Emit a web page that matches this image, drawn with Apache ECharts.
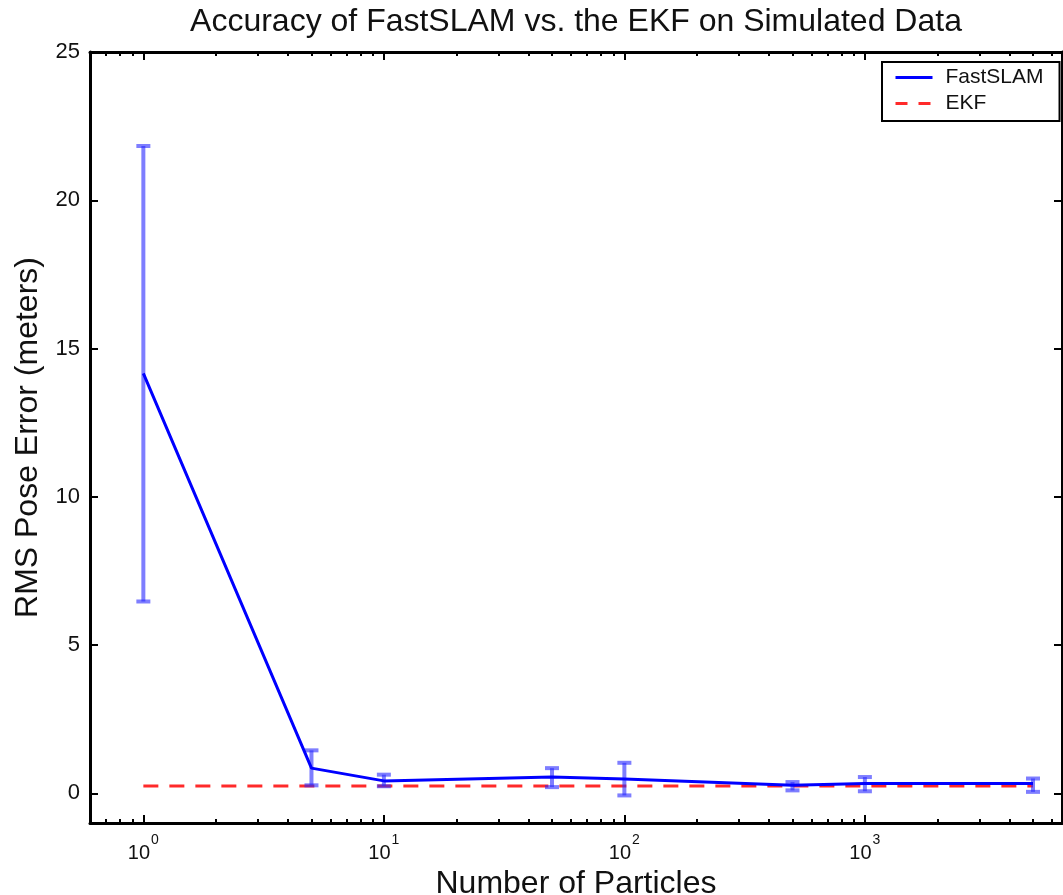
<!DOCTYPE html>
<html>
<head>
<meta charset="utf-8">
<title>Accuracy of FastSLAM vs. the EKF</title>
<script src="https://cdn.jsdelivr.net/npm/echarts@6/dist/echarts.min.js"></script>
<style>
    html, body { margin: 0; padding: 0; background: #fff; }
    #chart { width: 1063px; height: 895px; }
</style>
</head>
<body>
<div id="chart"></div>
<script type="text/javascript">
// number of particles (x, log scale)
var particles = [1, 5, 10, 50, 100, 500, 1000, 5000];
// FastSLAM RMS pose error, mean and error bar ends
var fastMean = [14.16, 0.85, 0.42, 0.55, 0.48, 0.27, 0.33, 0.33];
var fastLow  = [6.47, 0.27, 0.24, 0.21, -0.07, 0.10, 0.07, 0.05];
var fastHigh = [21.83, 1.45, 0.63, 0.85, 1.03, 0.38, 0.55, 0.50];
// EKF RMS pose error
var ekf = [0.25, 0.25, 0.25, 0.25, 0.25, 0.25, 0.25, 0.25];

var xMajor = [1, 10, 100, 1000];
var xMinor = [0.7, 0.8, 0.9, 2, 3, 4, 5, 6, 7, 8, 9, 20, 30, 40, 50, 60, 70, 80, 90,
              200, 300, 400, 500, 600, 700, 800, 900, 2000, 3000, 4000, 5000, 6000];
var yTicks = [0, 5, 10, 15, 20, 25];

var font = "'Liberation Sans', Arial, Helvetica, sans-serif";
var xMin = 0.6, xMax = 6600;

function xAxisDef(pos, ticks, len, showLabel, showLine) {
    return {
        type: 'log',
        logBase: 10,
        position: pos,
        min: xMin,
        max: xMax,
        axisLine: { show: showLine, onZero: false, lineStyle: { color: '#000', width: 3 } },
        axisTick: { show: true, inside: true, length: len, customValues: ticks,
                    lineStyle: { color: '#000', width: 2 } },
        axisLabel: {
            show: showLabel,
            customValues: ticks,
            margin: 10,
            formatter: function (v) {
                return '{b|10}{s|' + Math.round(Math.log10(v)) + '}';
            },
            rich: {
                b: { fontSize: 20, fontFamily: font, color: '#111', lineHeight: 30, verticalAlign: 'bottom' },
                s: { fontSize: 14, fontFamily: font, color: '#111', lineHeight: 30, verticalAlign: 'top', padding: [0, 0, 0, 1] }
            }
        },
        splitLine: { show: false },
        minorTick: { show: false }
    };
}

var xAxes = [
    xAxisDef('bottom', xMajor, 8, true, true),
    xAxisDef('bottom', xMinor, 4, false, false),
    xAxisDef('top', xMajor, 8, false, true),
    xAxisDef('top', xMinor, 4, false, false)
];
xAxes[0].name = 'Number of Particles';
xAxes[0].nameLocation = 'middle';
xAxes[0].nameGap = 44;
xAxes[0].nameTextStyle = { fontSize: 32, fontFamily: font, color: '#111' };

function yAxisDef(pos, showLabel) {
    return {
        type: 'value',
        position: pos,
        min: -1,
        max: 25,
        axisLine: { show: true, onZero: false, lineStyle: { color: '#000', width: 3 } },
        axisTick: { show: true, inside: true, length: 8, customValues: yTicks,
                    lineStyle: { color: '#000', width: 2 } },
        axisLabel: { show: showLabel, customValues: yTicks, margin: 10,
                     fontSize: 22, fontFamily: font, color: '#111' },
        splitLine: { show: false }
    };
}
var yAxes = [yAxisDef('left', true), yAxisDef('right', false)];
yAxes[0].name = 'RMS Pose Error (meters)';
yAxes[0].nameLocation = 'middle';
yAxes[0].nameGap = 44;
yAxes[0].nameTextStyle = { fontSize: 32, fontFamily: font, color: '#111' };

var lineData = particles.map(function (p, i) { return [p, fastMean[i]]; });
var ekfData = particles.map(function (p, i) { return [p, ekf[i]]; });
var errData = particles.map(function (p, i) { return [p, fastLow[i], fastHigh[i]]; });

var option = {
    backgroundColor: '#fff',
    animation: false,
    title: {
        text: 'Accuracy of FastSLAM vs. the EKF on Simulated Data',
        left: 571,
        textAlign: 'center',
        top: 1,
        textStyle: { fontSize: 32, fontWeight: 'normal', fontFamily: font, color: '#111' }
    },
    legend: {
        data: [
            { name: 'FastSLAM', lineStyle: { width: 3 } },
            { name: 'EKF', lineStyle: { type: [12, 11], width: 3 } }
        ],
        orient: 'vertical',
        left: 882,
        top: 62,
        padding: [5, 16, 7, 12],
        itemGap: 5,
        itemWidth: 37,
        itemHeight: 20,
        itemStyle: { opacity: 0 },
        borderColor: '#000',
        borderWidth: 2,
        backgroundColor: '#fff',
        textStyle: { fontSize: 21, fontFamily: font, color: '#111', padding: [0, 0, 0, 8] }
    },
    grid: { left: 90, right: 1, top: 52, bottom: 72, containLabel: false, outerBoundsMode: 'none' },
    xAxis: xAxes,
    yAxis: yAxes,
    series: [
        {
            name: 'EKF',
            type: 'line',
            data: ekfData,
            symbol: 'none',
            lineStyle: { color: '#ff2a2a', width: 3, type: [15, 11] },
            itemStyle: { color: '#ff2a2a' },
            z: 2
        },
        {
            type: 'custom',
            data: errData,
            encode: { x: 0, y: [1, 2] },
            z: 3,
            renderItem: function (params, api) {
                var x = api.value(0);
                var lo = api.coord([x, api.value(1)]);
                var hi = api.coord([x, api.value(2)]);
                var w = 7;
                var st = { stroke: 'rgba(40,40,255,0.6)', lineWidth: 4 };
                return {
                    type: 'group',
                    children: [
                        { type: 'line', shape: { x1: lo[0], y1: lo[1], x2: hi[0], y2: hi[1] }, style: st },
                        { type: 'line', shape: { x1: lo[0] - w, y1: lo[1], x2: lo[0] + w, y2: lo[1] }, style: st },
                        { type: 'line', shape: { x1: hi[0] - w, y1: hi[1], x2: hi[0] + w, y2: hi[1] }, style: st }
                    ]
                };
            }
        },
        {
            name: 'FastSLAM',
            type: 'line',
            data: lineData,
            symbol: 'none',
            lineStyle: { color: '#0000ff', width: 3 },
            itemStyle: { color: '#0000ff' },
            z: 4
        }
    ]
};

var myChart = echarts.init(document.getElementById('chart'));
myChart.setOption(option);
</script>
</body>
</html>
